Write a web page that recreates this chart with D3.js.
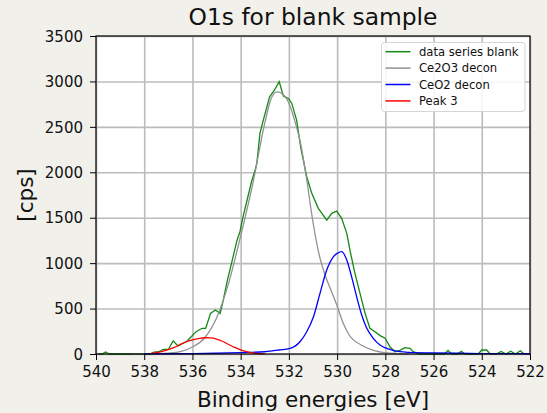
<!DOCTYPE html>
<html>
<head>
<meta charset="utf-8">
<script src="https://cdn.jsdelivr.net/npm/d3@7"></script>
<style>
  body { margin: 0; background: #f2f0eb; }
  text { font-family: "DejaVu Sans", sans-serif; fill: #111; }
</style>
</head>
<body>
<div id="chart"></div>
<script>
// binding energy (eV) / counts
var blankE = [539.9, 539.75, 539.6, 539.45, 539.2, 538.8, 538.4, 538.0, 537.75, 537.6, 537.4, 537.2, 537.0,
  536.8, 536.6, 536.45, 536.25, 536.05, 535.85, 535.6, 535.45, 535.25, 535.05, 534.85, 534.75, 534.55,
  534.35, 534.15, 534.03, 533.9, 533.7, 533.55, 533.4, 533.33, 533.2, 533.06, 532.8, 532.6, 532.4,
  532.23, 532.02, 531.88, 531.68, 531.5, 531.26, 531.05, 530.78, 530.43, 530.22, 530.02, 529.81,
  529.6, 529.44, 529.26, 529.05, 528.84, 528.64, 528.43, 528.2, 528.01, 527.81, 527.6, 527.4, 527.18,
  526.98, 526.84, 526.6, 526.2, 525.8, 525.55, 525.4, 525.25, 525.0, 524.85, 524.7, 524.4, 524.15,
  524.0, 523.8, 523.65, 523.4, 523.2, 523.0, 522.8, 522.6, 522.4, 522.25];
var blankCps = [0, 0, 22, 0, 0, 0, 0, 0, 0, 20, 25, 50, 50,
  145, 88, 110, 136, 190, 246, 283, 283, 447, 484, 447, 557, 814,
  1030, 1254, 1346, 1511, 1731, 1896, 2025, 2098, 2429, 2575, 2831, 2905, 2997,
  2839, 2813, 2758, 2575, 2260, 1951, 1768, 1603, 1474, 1548, 1573, 1493,
  1328, 1108, 888, 668, 448, 283, 245, 200, 173, 80, 25, 40, 70,
  62, 25, 0, 0, 0, 0, 40, 0, 0, 30, 0, 0, 0,
  44, 44, 0, 0, 28, 0, 30, 0, 35, 0];

var ce2o3E = [538.5, 538.0, 537.5, 537.0, 536.5, 536.0, 535.5, 535.0, 534.5, 534.0, 533.5, 533.0,
  532.75, 532.5, 532.25, 532.0, 531.75, 531.5, 531.25, 531.0, 530.75, 530.5, 530.25, 530.0,
  529.75, 529.5, 529.0, 528.5, 528.0, 527.5, 527.0];
var ce2o3Cps = [0, 1, 3, 9, 26, 77, 176, 396, 780, 1300, 1870, 2540,
  2800, 2885, 2860, 2760, 2560, 2300, 1900, 1450, 1100, 870, 700, 530,
  340, 209, 99, 40, 15, 5, 0];

var ceo2E = [538.0, 537.0, 536.0, 535.0, 534.0, 533.0, 532.4, 531.95, 531.54, 531.26, 530.98, 530.71,
  530.43, 530.15, 529.98, 529.81, 529.6, 529.4, 529.19, 528.98, 528.77, 528.5, 528.22, 527.81,
  527.39, 527.0, 526.0, 525.0, 524.0, 523.0, 522.0];
var ceo2Cps = [2, 3, 5, 8, 15, 25, 44, 62, 135, 245, 410, 668,
  924, 1071, 1110, 1126, 1034, 851, 631, 429, 283, 173, 99, 51,
  25, 18, 12, 8, 5, 4, 3];

var peak3E = [537.75, 537.5, 537.25, 537.0, 536.75, 536.5, 536.25, 536.0, 535.75, 535.5, 535.25,
  535.0, 534.75, 534.5, 534.25, 534.0, 533.75, 533.5, 533.25, 533.0];
var peak3Cps = [3, 15, 30, 48, 72, 105, 135, 155, 170, 179, 177,
  165, 140, 105, 72, 45, 25, 12, 5, 2];

var xTicks = [540, 538, 536, 534, 532, 530, 528, 526, 524, 522];
var yTicks = [0, 500, 1000, 1500, 2000, 2500, 3000, 3500];

var w = 547;
var h = 413;
var margin = { top: 36, bottom: 59, left: 96, right: 17 };
var width = w - margin.left - margin.right;
var height = h - margin.top - margin.bottom;

var svg = d3.select("#chart").append("svg")
  .attr("width", w)
  .attr("height", h);
svg.append("rect").attr("width", w).attr("height", h).attr("fill", "#f2f0eb");

var chart = svg.append("g")
  .attr("transform", "translate(" + margin.left + "," + margin.top + ")");

var x = d3.scaleLinear().domain([540, 522]).range([0, width]);
var y = d3.scaleLinear().domain([0, 3500]).range([height, 0]);

chart.append("rect").attr("width", width).attr("height", height).attr("fill", "#fff");

// grid
chart.append("g")
  .attr("class", "grid")
  .attr("transform", "translate(0," + height + ")")
  .call(d3.axisBottom(x).tickValues(xTicks).tickSize(-height).tickFormat(""));
chart.append("g")
  .attr("class", "grid")
  .call(d3.axisLeft(y).tickValues(yTicks).tickSize(-width).tickFormat(""));
chart.selectAll(".grid .domain").remove();
chart.selectAll(".grid line").attr("stroke", "#bcbcbc").attr("stroke-width", 1.6);

function zip(es, cs) {
  return es.map(function(e, i) { return { e: e, c: cs[i] }; });
}

var rawLine = d3.line()
  .x(function(d) { return x(d.e); })
  .y(function(d) { return y(d.c); });
var smoothLine = d3.line()
  .x(function(d) { return x(d.e); })
  .y(function(d) { return y(d.c); })
  .curve(d3.curveMonotoneX);

var series = [
  { name: "data series blank", color: "#138a13", data: zip(blankE, blankCps), gen: rawLine },
  { name: "Ce2O3 decon", color: "#929292", data: zip(ce2o3E, ce2o3Cps), gen: smoothLine },
  { name: "CeO2 decon", color: "#0000ff", data: zip(ceo2E, ceo2Cps), gen: smoothLine },
  { name: "Peak 3", color: "#ff0000", data: zip(peak3E, peak3Cps), gen: smoothLine }
];

series.forEach(function(s) {
  chart.append("path")
    .datum(s.data)
    .attr("fill", "none")
    .attr("stroke", s.color)
    .attr("stroke-width", 1.3)
    .attr("d", s.gen);
});

// axes
var xAxis = chart.append("g")
  .attr("transform", "translate(0," + height + ")")
  .call(d3.axisBottom(x).tickValues(xTicks).tickSize(6).tickPadding(6).tickFormat(d3.format("d")));
var yAxis = chart.append("g")
  .call(d3.axisLeft(y).tickValues(yTicks).tickSize(6).tickPadding(7).tickFormat(d3.format("d")));
chart.selectAll(".domain").remove();
chart.selectAll(".tick line").filter(function() { return !this.closest(".grid"); })
  .attr("stroke", "#000").attr("stroke-width", 1);
xAxis.selectAll("text").style("font-size", "15px").attr("fill", "#111");
yAxis.selectAll("text").style("font-size", "15px").attr("fill", "#111").attr("dy", "0.35em");

chart.append("rect")
  .attr("width", width).attr("height", height)
  .attr("fill", "none").attr("stroke", "#000").attr("stroke-width", 1.2);

// labels
svg.append("text")
  .attr("x", margin.left + width / 2).attr("y", 25)
  .attr("text-anchor", "middle")
  .style("font-size", "23.4px")
  .text("O1s for blank sample");
svg.append("text")
  .attr("x", margin.left + width / 2).attr("y", 407)
  .attr("text-anchor", "middle")
  .style("font-size", "21.5px")
  .text("Binding energies [eV]");
svg.append("text")
  .attr("transform", "translate(33," + (margin.top + height / 2) + ") rotate(-90)")
  .attr("text-anchor", "middle")
  .style("font-size", "21.5px")
  .text("[cps]");

// legend
var legend = svg.append("g");
legend.append("rect")
  .attr("x", 381.5).attr("y", 42.5)
  .attr("width", 143.5).attr("height", 69)
  .attr("rx", 3)
  .attr("fill", "#fff").attr("fill-opacity", 0.85)
  .attr("stroke", "#d5d5d5");
series.forEach(function(s, i) {
  var ly = 51.7 + i * 16.4;
  legend.append("line")
    .attr("x1", 385.5).attr("x2", 410.5)
    .attr("y1", ly).attr("y2", ly)
    .attr("stroke", s.color).attr("stroke-width", 1.5);
  legend.append("text")
    .attr("x", 419).attr("y", ly)
    .attr("dy", "0.35em")
    .style("font-size", "11.6px")
    .text(s.name);
});
</script>
</body>
</html>
